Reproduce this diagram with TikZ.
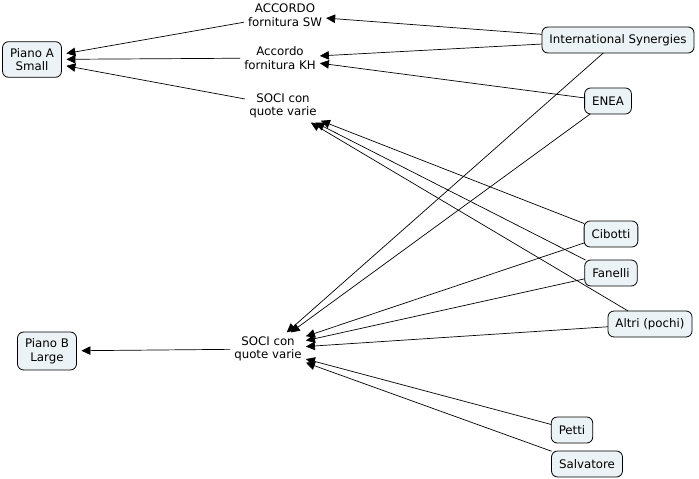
\documentclass[tikz,border=0pt]{standalone}
\usepackage{fontspec}
\setmainfont{DejaVu Sans}
\usepackage{tikz}
\usetikzlibrary{arrows.meta}
\definecolor{BoxFill}{RGB}{236,243,246}

\begin{document}
\begin{tikzpicture}[x = 1pt, y = -1pt,
              font = \fontsize{11.8}{13.5}\selectfont,
              cbox/.style = {draw, fill = BoxFill, rounded corners = 6pt, align = center, inner xsep = 7.5pt, inner ysep = 6.5pt, minimum height = 26pt, outer sep = 0pt, line width = 0.8pt},
              concept/.style = {align = center, inner sep = 4pt},
              link/.style = {line width = 0.7pt, -{Triangle[length = 9pt, width = 8.5pt]}},
              tobox/.style = {link, shorten > = 5pt}]
              \useasboundingbox (0, 0) rectangle (699, 479);
              \node [cbox] (pianoA) at (32, 59.5) {Piano A\\Small};
              \node [cbox] (pianoB) at (47, 351) {Piano B\\Large};
              \node [concept] (sw) at (285, 15) {ACCORDO\\fornitura SW};
              \node [concept] (kh) at (280, 58) {Accordo\\fornitura KH};
              \node [concept] (sociA) at (283, 106) {SOCI con\\quote varie};
              \node [concept] (sociB) at (268, 349) {SOCI con\\quote varie};
              \node [cbox] (is) at (618, 40) {International Synergies};
              \node [cbox] (enea) at (608, 101) {ENEA};
              \node [cbox] (cibotti) at (611, 234) {Cibotti};
              \node [cbox] (fanelli) at (611, 273) {Fanelli};
              \node [cbox] (altri) at (650, 324) {Altri (pochi)};
              \node [cbox] (petti) at (572, 430) {Petti};
              \node [cbox] (salvatore) at (587, 464) {Salvatore};
              \draw [link] (is) -- (sw);
              \draw [link] (is) -- (kh);
              \draw [link] (enea) -- (kh);
              \draw [tobox] (sw) -- (pianoA);
              \draw [tobox] (kh) -- (pianoA);
              \draw [tobox] (sociA) -- (pianoA);
              \foreach \n in {cibotti, fanelli, altri}
              \draw [link] (\n) -- (sociA);
              \foreach \n in {is, enea, cibotti, fanelli, altri, petti, salvatore}
              \draw [link] (\n) -- (sociB);
              \draw [tobox] (sociB) -- (pianoB);
            \end{tikzpicture}
\end{document}
